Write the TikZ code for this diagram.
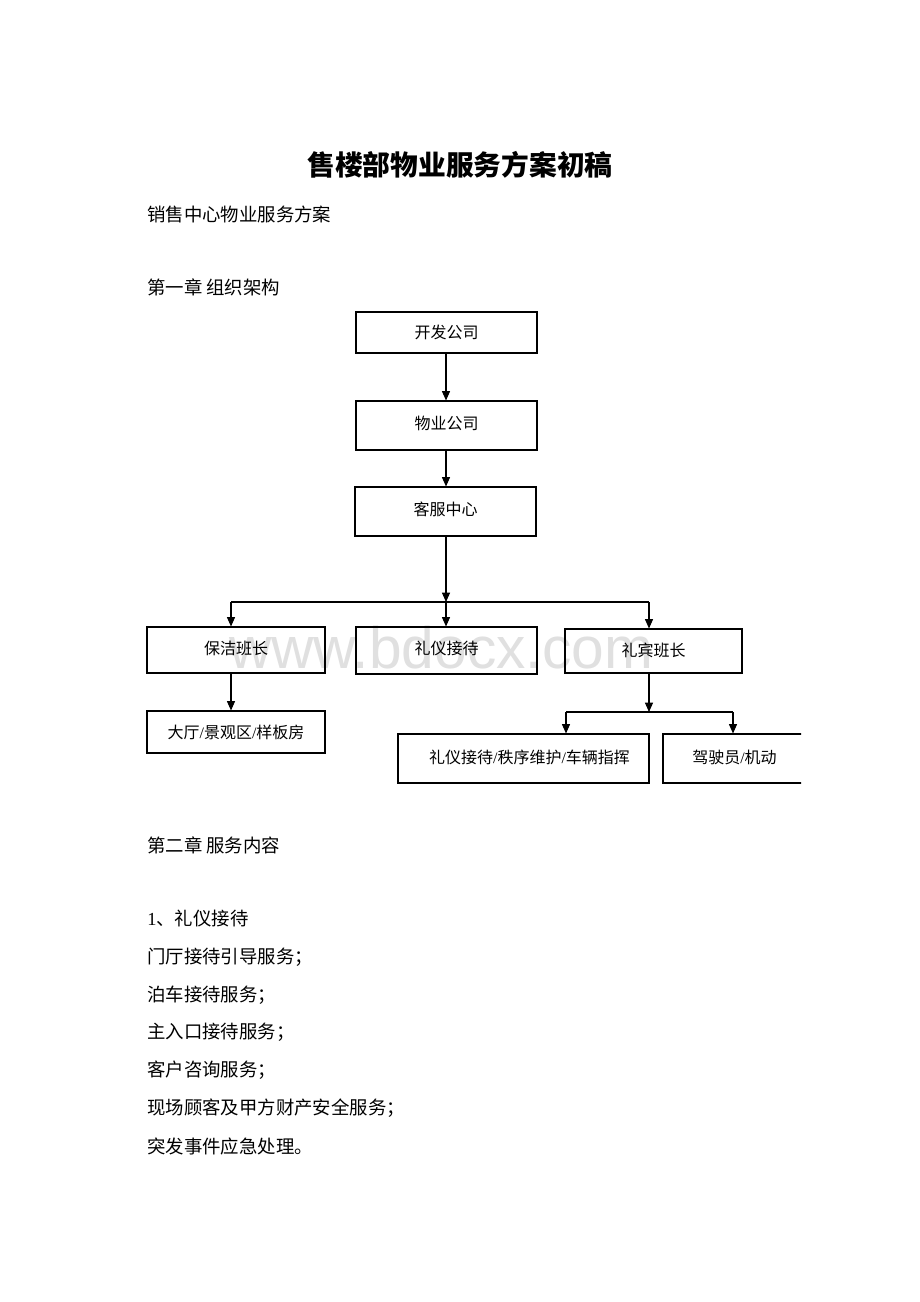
\documentclass[tikz,border=0pt]{standalone}
\usepackage{fontspec}
\setmainfont{Noto Sans CJK SC}
\newfontfamily\wmfont{Liberation Sans}
\newfontfamily\latf{Liberation Serif}
\usetikzlibrary{arrows.meta}
\tikzset{
  x=0.75pt, y=-0.75pt,
  box/.style={draw=black, line width=0.8pt, inner sep=0pt, font=\fontsize{12pt}{14pt}\selectfont},
  line/.style={draw=black, line width=0.8pt},
  arr/.style={line, -{Triangle[length=7pt,width=6pt]}},
  body/.style={anchor=west, inner sep=0pt, font=\fontsize{13.8pt}{16pt}\selectfont}
}
\newcommand\slsep{{\latf /}}
\begin{document}
\begin{tikzpicture}
\useasboundingbox (0,0) rectangle (920,1302);
\fill[white] (0,0) rectangle (920,1302);
% watermark
\node[anchor=base, inner sep=0pt, text=black!12, font=\wmfont\fontsize{44pt}{48pt}\selectfont] (wm) at (441,668) {www.bdocx.com};
% title and text
\node[inner sep=0pt, font=\fontsize{20.8pt}{24pt}\selectfont\bfseries] (title) at (460,165) {售楼部物业服务方案初稿};
\node[body] (t1) at (147,214) {销售中心物业服务方案};
\node[body] (t2) at (147,287) {第一章 组织架构};
\node[body] (t3) at (147,845) {第二章 服务内容};
\node[body] (t4) at (147,918) {{\latf 1}、礼仪接待};
\node[body] (t5) at (147,957) {门厅接待引导服务；};
\node[body] (t6) at (147,995) {泊车接待服务；};
\node[body] (t7) at (147,1032) {主入口接待服务；};
\node[body] (t8) at (147,1070) {客户咨询服务；};
\node[body] (t9) at (147,1108) {现场顾客及甲方财产安全服务；};
\node[body] (t10) at (147,1146) {突发事件应急处理。};
% boxes
\node[box, minimum width=181*0.75pt, minimum height=41*0.75pt] (kf) at (446.5,332.5) {\raisebox{0.6pt}{开发公司}};
\node[box, minimum width=181*0.75pt, minimum height=49*0.75pt] (wy) at (446.5,425.5) {\raisebox{4.4pt}{物业公司}};
\node[box, minimum width=181*0.75pt, minimum height=49*0.75pt] (kfz) at (445.5,511.5) {\raisebox{4.8pt}{客服中心}};
\node[box, minimum width=178*0.75pt, minimum height=46*0.75pt] (bj) at (236,650) {\raisebox{2.6pt}{保洁班长}};
\node[box, minimum width=181*0.75pt, minimum height=47*0.75pt] (ly) at (446.5,650.5) {\raisebox{4.4pt}{礼仪接待}};
\node[box, minimum width=177*0.75pt, minimum height=44*0.75pt] (lb) at (653.5,651) {\raisebox{2pt}{礼宾班长}};
\node[box, minimum width=178*0.75pt, minimum height=42*0.75pt] (dt) at (236,732) {\raisebox{0.5pt}{大厅\slsep 景观区\slsep 样板房}};
\node[box, minimum width=251*0.75pt, minimum height=49*0.75pt] (lz) at (523.5,758.5) {\hspace*{9pt}\raisebox{3.2pt}{礼仪接待\slsep 秩序维护\slsep 车辆指挥}};
\begin{scope}
\clip (0,0) rectangle (801,1302);
\node[box, minimum width=143*0.75pt, minimum height=49*0.75pt] (js) at (734.5,758.5) {\raisebox{3.2pt}{驾驶员\slsep 机动}};
\end{scope}
% connectors
\coordinate (hl) at (231,602);
\coordinate (hm) at (446,602);
\coordinate (hr) at (649,602);
\coordinate (gl) at (566,712);
\coordinate (gm) at (649,712);
\coordinate (gr) at (733,712);
\draw[arr] (kf.south -| hm) -- (wy.north -| hm);
\draw[arr] (wy.south -| hm) -- (kfz.north -| hm);
\draw[arr] (kfz.south -| hm) -- (hm);
\draw[line] (hl) -- (hr);
\draw[arr] (hm) -- (ly.north -| hm);
\draw[arr] (hl) -- (bj.north -| hl);
\draw[arr] (hr) -- (lb.north -| hr);
\draw[arr] (bj.south -| hl) -- (dt.north -| hl);
\draw[arr] (lb.south -| gm) -- (gm);
\draw[line] (gl) -- (gr);
\draw[arr] (gl) -- (lz.north -| gl);
\draw[arr] (gr) -- (js.north -| gr);
\end{tikzpicture}
\end{document}
